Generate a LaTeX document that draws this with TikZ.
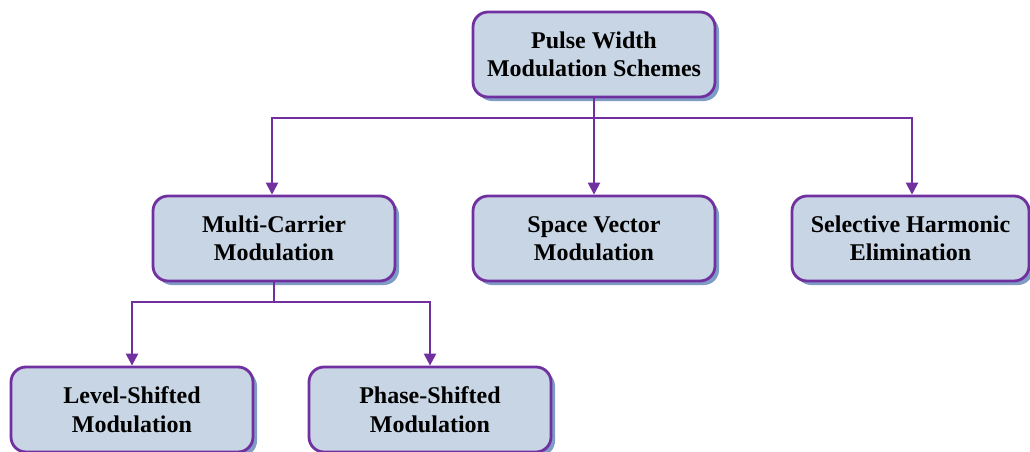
\documentclass[tikz,border=0pt]{standalone}
\usepackage{fontspec}
\setmainfont{Liberation Serif}
\usetikzlibrary{arrows.meta,shadows}
\definecolor{boxfill}{HTML}{C8D5E4}
\definecolor{boxline}{HTML}{7030A0}
\definecolor{boxshade}{HTML}{7F9CC7}
\tikzset{
  scheme/.style={draw=boxline, line width=2.8pt, fill=boxfill, rounded corners=15pt,
    minimum width=242pt, minimum height=85pt, inner sep=0pt, align=center,
    font=\fontsize{24}{28.5}\selectfont\bfseries,
    drop shadow={shadow xshift=4pt, shadow yshift=-4pt, fill=boxshade, opacity=1}},
  link/.style={draw=boxline, line width=2.4pt},
  arrowlink/.style={link, -{Triangle[length=12pt,width=12pt]}},
}
\begin{document}
\begin{tikzpicture}[x=1pt,y=-1pt]
  \clip (0,0) rectangle (1030,452);
  \useasboundingbox (0,0) rectangle (1030,452);
  % boxes
  \node[scheme] (pwm) at (594,54.5) {Pulse Width\\Modulation Schemes};
  \node[scheme] (mc)  at (274,238.5) {Multi-Carrier\\Modulation};
  \node[scheme] (sv)  at (594,238.5) {Space Vector\\Modulation};
  \node[scheme, minimum width=237pt] (she) at (910.5,238.5) {Selective Harmonic\\Elimination};
  \node[scheme] (ls)  at (132,409.5) {Level-Shifted\\Modulation};
  \node[scheme] (ps)  at (430,409.5) {Phase-Shifted\\Modulation};
  % branch points
  \coordinate (topbus) at (594,118);
  \coordinate (midbus) at (274,302);
  % first level
  \draw[link] (pwm.south) -- (topbus);
  \draw[arrowlink] (topbus) -| (mc.north -| 272,0);
  \draw[arrowlink] (topbus) -- (sv.north);
  \draw[arrowlink] (topbus) -| (she.north -| 912,0);
  % second level
  \draw[link] (mc.south) -- (midbus);
  \draw[arrowlink] (midbus) -| (ls.north);
  \draw[arrowlink] (midbus) -| (ps.north);
\end{tikzpicture}
\end{document}
